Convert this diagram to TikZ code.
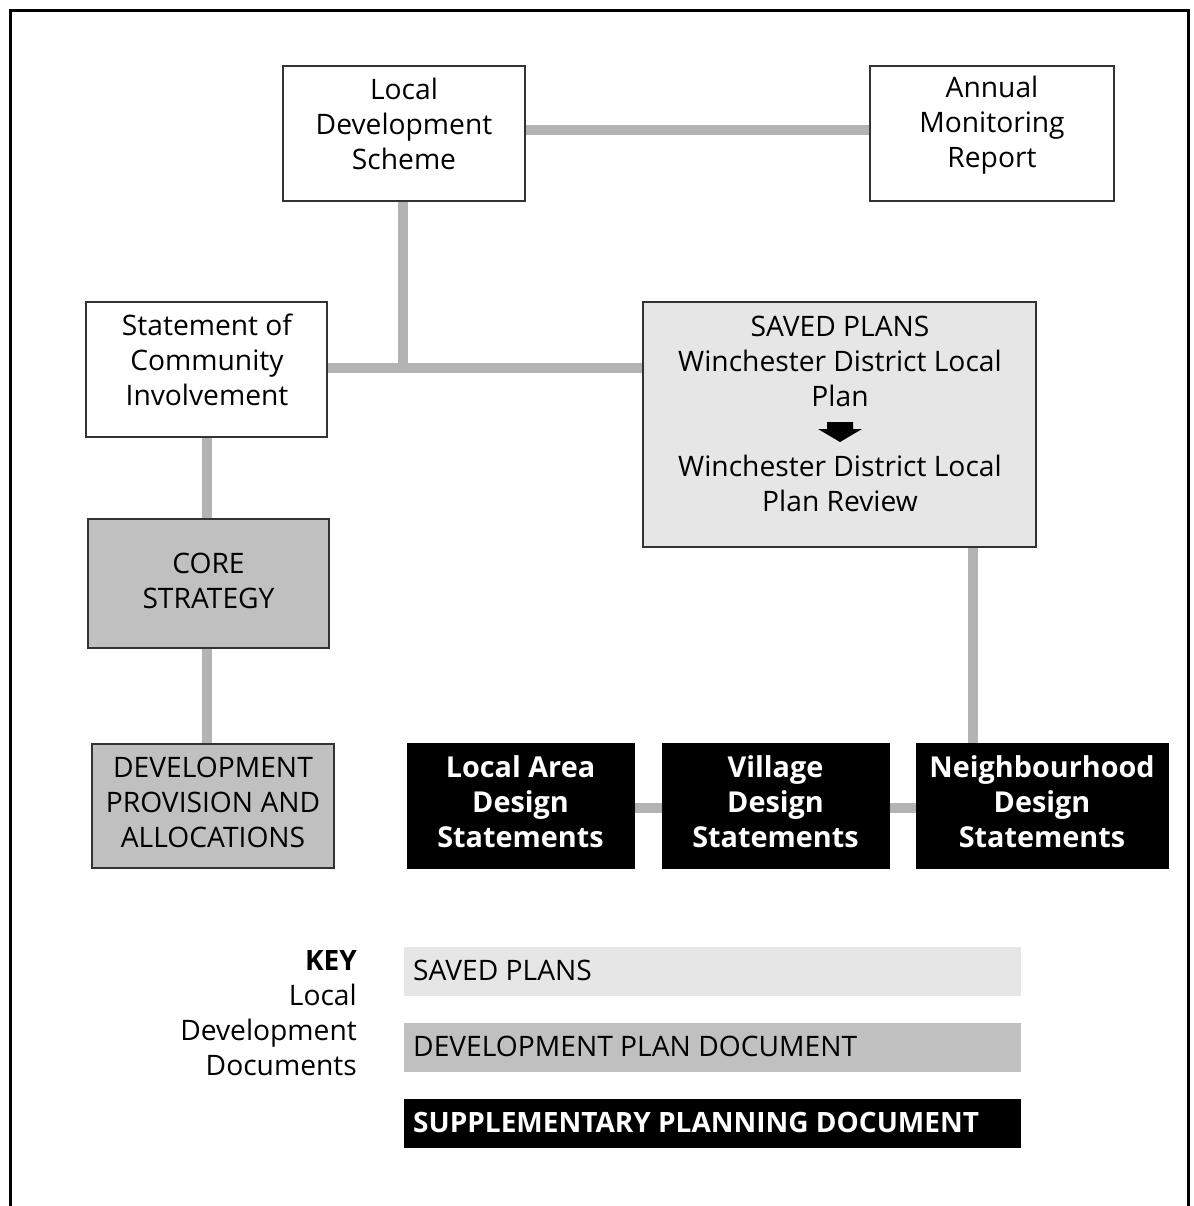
\documentclass[tikz,border=0pt]{standalone}
\usepackage{fontspec}
\setmainfont{Open Sans}
\definecolor{conngrey}{HTML}{B3B3B3}
\definecolor{boxline}{HTML}{333333}
\definecolor{savedfill}{HTML}{E6E6E6}
\definecolor{dpdfill}{HTML}{C0C0C0}
\newcommand\lnstrut{\rule[-2pt]{0pt}{35pt}}
\newcommand\mainfs{\fontsize{28.2}{35}\selectfont}
\newcommand\boldfs{\fontsize{28.8}{35}\selectfont\bfseries}
\newcommand\keyboldfs{\fontsize{28}{35}\selectfont\bfseries}
\begin{document}
\begin{tikzpicture}[x=1pt,y=-1pt,
  box/.style={draw=boxline, line width=1.2pt, inner sep=0pt, anchor=center},
  blackbox/.style={draw=black, fill=black, line width=1pt, inner sep=0pt, anchor=center},
  keybar/.style={inner sep=0pt, minimum width=617pt, minimum height=49pt, anchor=center},
  conn/.style={draw=conngrey, line width=10pt},
  txt/.style={inner sep=0pt, align=center, font=\mainfs,
    execute at begin node=\lnstrut, execute at end node=\lnstrut},
  wtxt/.style={txt, font=\boldfs, text=white},
]
\useasboundingbox (0,0) rectangle (1193,1206);
% outer frame (open at the bottom)
\draw[line width=3pt, black] (10.5,1230) -- (10.5,10.5) -- (1188,10.5) -- (1188,1230);

% junction coordinate
\coordinate (j1) at (403,368);

% boxes
\node[box, fill=white, minimum width=242pt, minimum height=135pt] (lds) at (404,133.5) {};
\node[box, fill=white, minimum width=244pt, minimum height=135pt] (amr) at (992,133.5) {};
\node[box, fill=white, minimum width=241pt, minimum height=135pt] (sci) at (206.5,369.5) {};
\node[box, fill=savedfill, minimum width=393pt, minimum height=245pt] (saved) at (839.5,424.5) {};
\node[box, fill=dpdfill, minimum width=241pt, minimum height=129pt] (cs) at (208.5,583.5) {};
\node[box, fill=dpdfill, minimum width=242pt, minimum height=124pt] (dp) at (213,806) {};
\node[blackbox, minimum width=227pt, minimum height=125pt] (lads) at (520.5,805.5) {};
\node[blackbox, minimum width=227pt, minimum height=125pt] (vds) at (775.5,805.5) {};
\node[blackbox, minimum width=252pt, minimum height=125pt] (nds) at (1042,805.5) {};

% connectors
\draw[conn] (lds.east |- 0,130) -- (amr.west |- 0,130);
\draw[conn] (lds.south -| j1) -- ([yshift=5pt]j1);
\draw[conn] (sci.east |- j1) -- (saved.west |- j1);
\draw[conn] (sci.south -| 207,0) -- (cs.north -| 207,0);
\draw[conn] (cs.south -| 207,0) -- (dp.north -| 207,0);
\draw[conn] (saved.south -| 973,0) -- (nds.north -| 973,0);
\draw[conn] (lads.east |- 0,808) -- (vds.west |- 0,808);
\draw[conn] (vds.east |- 0,808) -- (nds.west |- 0,808);

% texts
\node[txt] (ldsT) at (404,125) {Local\\Development\\Scheme};
\node[txt] (amrT) at (992,125) {Annual\\Monitoring\\Report};
\node[txt] (sciT) at (207,361) {Statement of\\Community\\Involvement};
\node[txt] (savedT1) at (840,362) {SAVED PLANS\\Winchester District Local\\Plan};
\node[txt] (savedT2) at (840,484.5) {Winchester District Local\\Plan Review};
\node[txt] (csT) at (208.5,581.5) {CORE\\STRATEGY};
\node[txt] (dpT) at (213,803) {DEVELOPMENT\\PROVISION AND\\ALLOCATIONS};
\node[wtxt] (ladsT) at (520.5,802.5) {Local Area\\Design\\Statements};
\node[wtxt] (vdsT) at (775.5,802.5) {Village\\Design\\Statements};
\node[wtxt] (ndsT) at (1042,802.5) {Neighbourhood\\Design\\Statements};

% arrow in saved plans box
\fill[black] (827,422) -- (853,422) -- (853,429) -- (862,429) -- (840,442) -- (818,429) -- (827,429) -- cycle;

% key
\node[txt, align=right, anchor=east] (keyT) at (357,1014) {{\keyboldfs KEY}\\Local\\Development\\Documents};
\node[keybar, fill=savedfill] (k1) at (712.5,971.5) {};
\node[keybar, fill=dpdfill] (k2) at (712.5,1047.5) {};
\node[keybar, fill=black] (k3) at (712.5,1123.5) {};
\node[txt, anchor=west] (k1T) at (413,965) {SAVED PLANS};
\node[txt, anchor=west] (k2T) at (413,1041) {DEVELOPMENT PLAN DOCUMENT};
\node[txt, font=\keyboldfs, text=white, anchor=west] (k3T) at (413,1117) {SUPPLEMENTARY PLANNING DOCUMENT};
\end{tikzpicture}
\end{document}
